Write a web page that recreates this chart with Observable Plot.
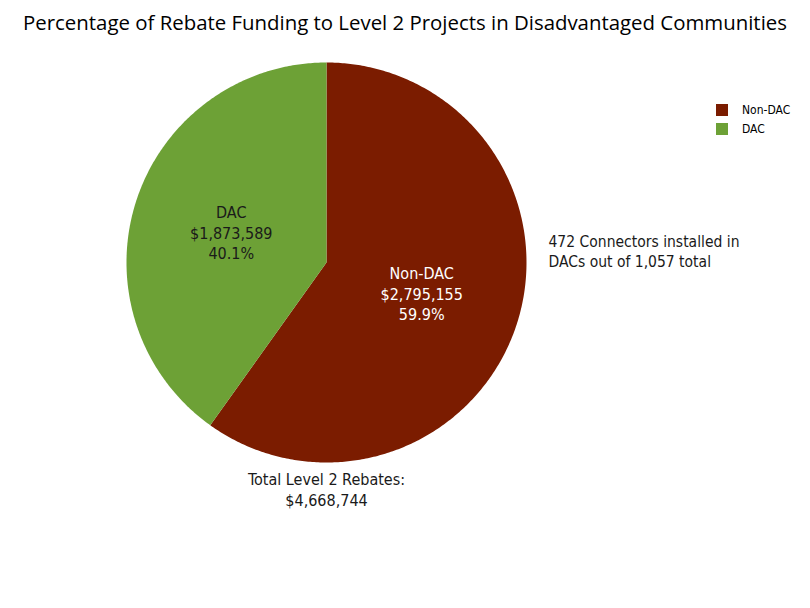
<!DOCTYPE html>
<html><head><meta charset="utf-8">
<script src="https://cdn.jsdelivr.net/npm/d3@7"></script>
<script src="https://cdn.jsdelivr.net/npm/@observablehq/plot@0.6"></script>
<style>
body{margin:0;background:#fff;width:810px;height:608px;position:relative;overflow:hidden}
#title{height:44px;line-height:44px;text-align:center;font-family:"Open Sans",sans-serif;font-size:20.4px;color:#000}
#legend{position:absolute;left:716px;top:100px;font-family:"DejaVu Sans Condensed","DejaVu Sans",sans-serif;font-size:12px;color:#000}
#legend div{display:flex;align-items:center;height:19px}
#legend span.sw{display:inline-block;width:12px;height:12px;margin-right:14px}
</style></head>
<body>
<div id="title">Percentage of Rebate Funding to Level 2 Projects in Disadvantaged Communities</div>
<div id="chart"></div>
<div id="legend"></div>
<script>
const categories = ["Non-DAC", "DAC"];
const values = [2795155, 1873589];
const colors = ["#7B1C00", "#6DA136"];
const labelColors = ["#ffffff", "#1a1a1a"];
const totalLabel = "Total Level 2 Rebates:";
const connectorsDAC = 472;
const connectorsTotal = 1057;

const total = d3.sum(values);
const fmt = d3.format("$,");
// slice geometry: clockwise from 12 o'clock, unit radius
const slices = [];
let a0 = 0;
values.forEach((v, i) => {
  const a1 = a0 + (v / total) * 2 * Math.PI;
  slices.push({cat: categories[i], value: v, a0, a1, share: v / total});
  a0 = a1;
});
const pts = [];
for (const s of slices) {
  pts.push({cat: s.cat, x: 0, y: 0});
  const n = Math.max(2, Math.ceil((s.a1 - s.a0) / 0.01));
  for (let k = 0; k <= n; k++) {
    const a = s.a0 + (s.a1 - s.a0) * k / n;
    pts.push({cat: s.cat, x: Math.sin(a), y: Math.cos(a)});
  }
  pts.push({cat: s.cat, x: 0, y: 0});
}
const labels = slices.map((s, i) => {
  const m = (s.a0 + s.a1) / 2, r = 0.5;
  return {cat: s.cat, x: r * Math.sin(m), y: r * Math.cos(m), color: labelColors[i],
    text: `${s.cat}\n${fmt(s.value)}\n${d3.format(".1%")(s.share)}`};
});

const W = 810, H = 564, R = 200, cx = 326, cy = 218;
const chart = Plot.plot({
  width: W, height: H, margin: 0,
  x: {domain: [-cx / R, (W - cx) / R], range: [0, W], axis: null},
  y: {domain: [-(H - cy) / R, cy / R], range: [H, 0], axis: null},
  color: {domain: categories, range: colors},
  style: {fontFamily: "'DejaVu Sans Condensed','DejaVu Sans',sans-serif", background: "#fff"},
  marks: [
    Plot.line(pts, {x: "x", y: "y", z: "cat", fill: "cat", stroke: "none"}),
    Plot.text(labels, {x: "x", y: "y", text: "text", fill: "color", fontSize: 16, lineHeight: 1.3}),
    Plot.text([`${connectorsDAC} Connectors installed in\nDACs out of ${d3.format(",")(connectorsTotal)} total`],
      {frameAnchor: "top-left", dx: 548, dy: 188, textAnchor: "start", fontSize: 15.5, lineHeight: 1.3, fill: "#1a1a1a"}),
    Plot.text([`${totalLabel}\n${fmt(total)}`],
      {frameAnchor: "top-left", dx: cx, dy: 426, textAnchor: "middle", fontSize: 16, lineHeight: 1.3, fill: "#1a1a1a"})
  ]
});
document.getElementById("chart").appendChild(chart);
const leg = document.getElementById("legend");
categories.forEach((c, i) => {
  const d = document.createElement("div");
  d.innerHTML = `<span class="sw" style="background:${colors[i]}"></span>${c}`;
  leg.appendChild(d);
});
</script>
</body></html>
